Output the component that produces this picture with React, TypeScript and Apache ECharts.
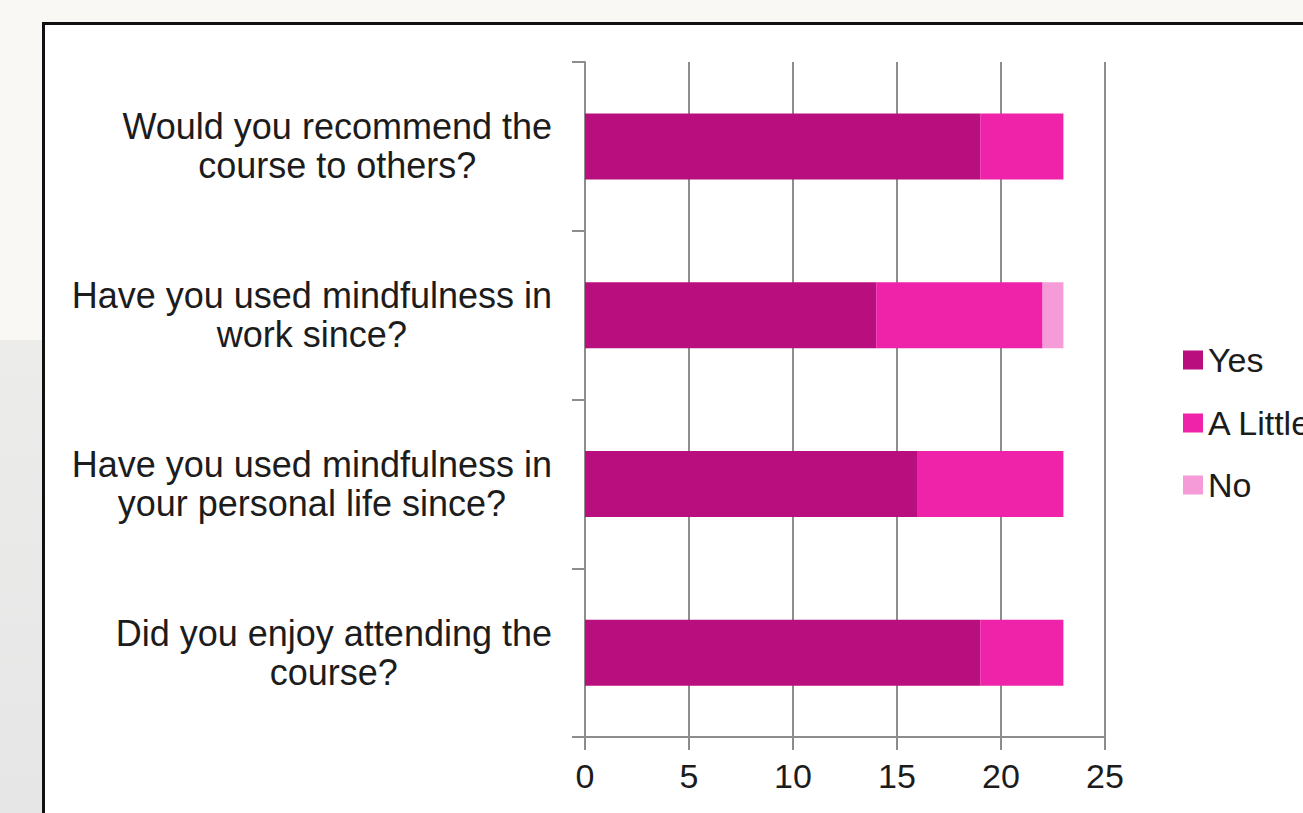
import React, { useEffect, useRef } from "react";
import * as echarts from "echarts";

const categories = [
  "Did you enjoy attending the\ncourse?",
  "Have you used mindfulness in\nyour personal life since?",
  "Have you used mindfulness in\nwork since?",
  "Would you recommend the\ncourse to others?",
];
const yesValues = [19, 16, 14, 19];
const aLittleValues = [4, 7, 8, 4];
const noValues = [0, 0, 1, 0];
const seriesNames = ["Yes", "A Little", "No"];
const seriesColors = ["#b90f7e", "#ee23a9", "#f59bd7"];
const xTicks = [0, 5, 10, 15, 20, 25];

export default function App() {
  const ref = useRef<HTMLDivElement>(null);
  useEffect(() => {
    if (!ref.current) return;
    const chart = echarts.init(ref.current, null, { renderer: "svg" });
    const font = "'Liberation Sans', Arial, sans-serif";
    const axisColor = "#8d8d8d";
    const legendCenters = [360, 423, 485];
    const values = [yesValues, aLittleValues, noValues];
    chart.setOption({
      animation: false,
      backgroundColor: "#f9f8f5",
      textStyle: { fontFamily: font },
      graphic: {
        elements: [
          {
            type: "rect",
            z: -20,
            silent: true,
            shape: { x: 0, y: 340, width: 44, height: 480 },
            style: {
              fill: new echarts.graphic.LinearGradient(0, 0, 0, 1, [
                { offset: 0, color: "#ececeb" },
                { offset: 1, color: "#e6e6e6" },
              ]),
            },
          },
          {
            type: "rect",
            z: -10,
            silent: true,
            shape: { x: 43.5, y: 23.5, width: 1400, height: 900 },
            style: { fill: "#ffffff", stroke: "#111111", lineWidth: 3 },
          },
        ],
      },
      legend: seriesNames.map((n, i) => ({
        data: [n],
        orient: "vertical",
        left: 1183,
        top: legendCenters[i] - 18,
        padding: 0,
        itemWidth: 20,
        itemHeight: 19,
        icon: "rect",
        textStyle: { fontSize: 34, lineHeight: 36, color: "#1c1c1c", fontFamily: font },
      })),
      grid: { left: 585, right: 198, top: 62, bottom: 76, containLabel: false },
      xAxis: {
        type: "value",
        min: xTicks[0],
        max: xTicks[xTicks.length - 1],
        interval: 5,
        axisLine: { show: true, lineStyle: { color: axisColor, width: 2 } },
        axisTick: { show: true, length: 13, lineStyle: { color: axisColor, width: 2 } },
        splitLine: { show: true, showMinLine: true, showMaxLine: true, lineStyle: { color: axisColor, width: 2 } },
        axisLabel: { fontSize: 34, color: "#1c1c1c", margin: 22, fontFamily: font },
      },
      yAxis: {
        type: "category",
        data: categories,
        axisLine: { show: true, lineStyle: { color: axisColor, width: 2 } },
        axisTick: { show: true, length: 13, lineStyle: { color: axisColor, width: 2 } },
        splitLine: { show: false },
        axisLabel: {
          margin: 33,
          align: "right",
          formatter: (v: string) =>
            v
              .split("\n")
              .map((l) => "{c|" + l + "}")
              .join("\n"),
          rich: {
            c: {
              align: "center",
              fontSize: 36,
              lineHeight: 39,
              color: "#1c1c1c",
              fontFamily: font,
            },
          },
        },
      },
      series: seriesNames.map((n, i) => ({
        name: n,
        type: "bar",
        stack: "total",
        barWidth: 66,
        itemStyle: { color: seriesColors[i] },
        data: values[i],
      })),
    });
    return () => chart.dispose();
  }, []);
  return (
    <div
      ref={ref}
      style={{ position: "fixed", left: 0, top: 0, width: 1303, height: 813 }}
    />
  );
}
